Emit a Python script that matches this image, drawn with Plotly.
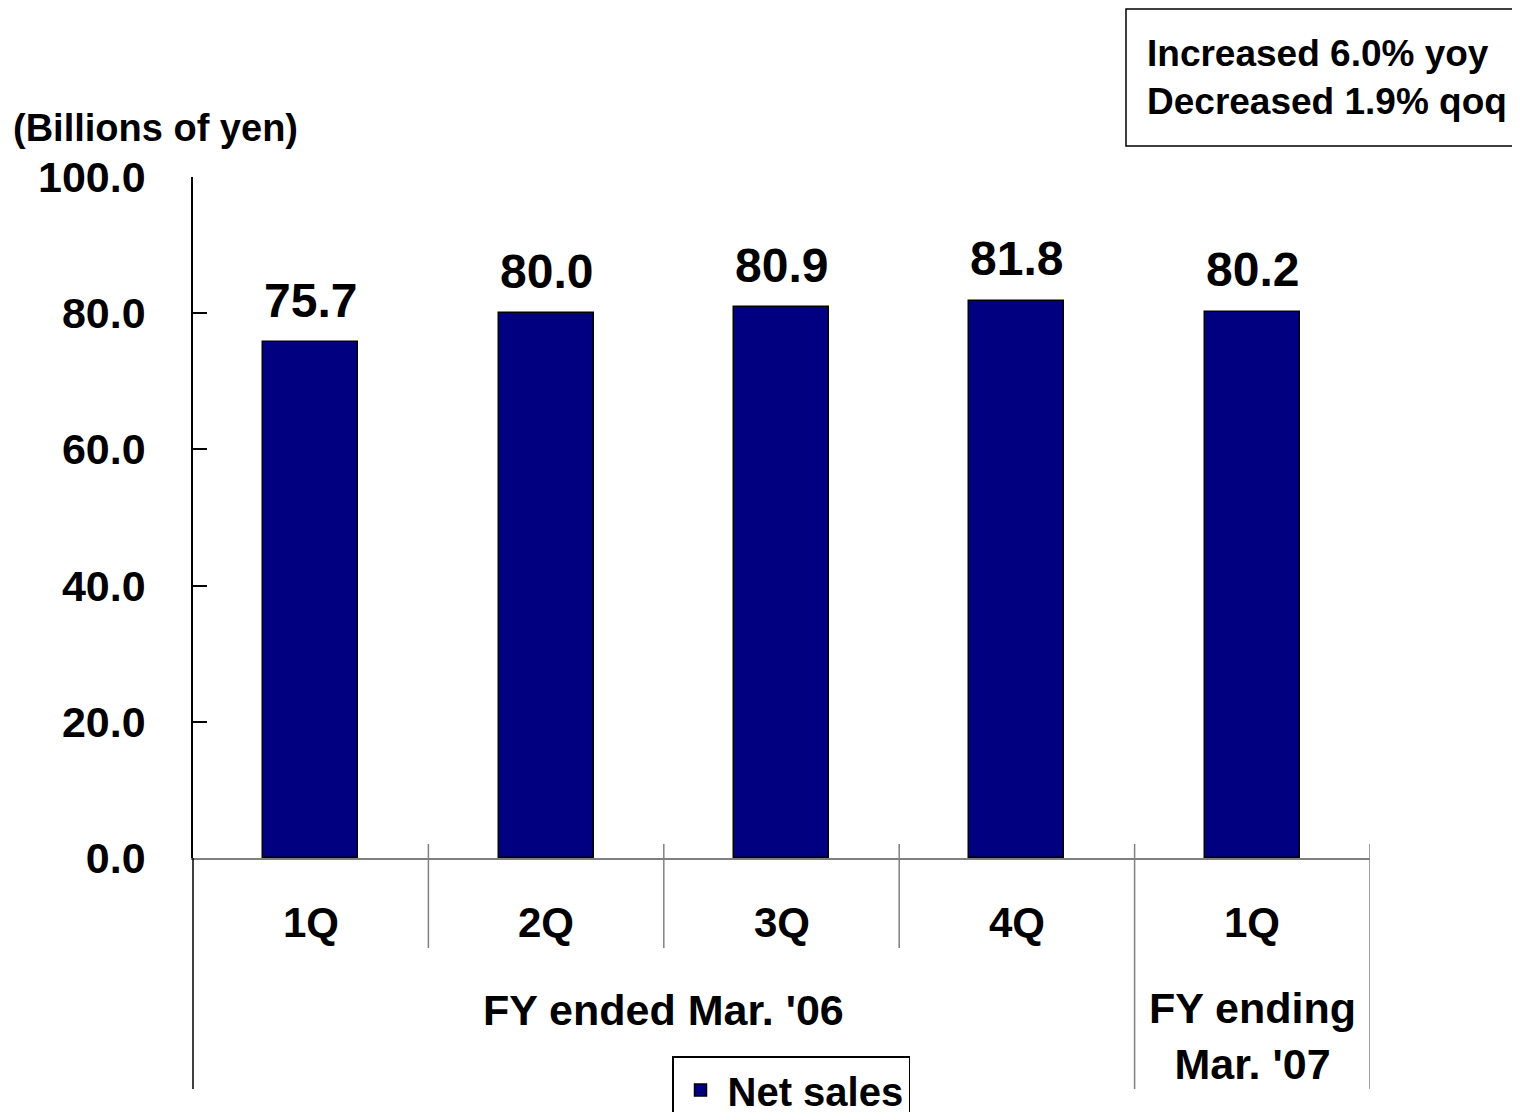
import plotly.graph_objects as go

# ---- data ----
quarters = ["1Q", "2Q", "3Q", "4Q", "1Q"]
net_sales = [75.7, 80.0, 80.9, 81.8, 80.2]
fiscal_groups = ["FY ended Mar. '06", "FY ending<br>Mar. '07"]
group_sizes = [4, 1]
ytick_vals = [0, 20, 40, 60, 80, 100]
ytick_text = ["0.0", "20.0", "40.0", "60.0", "80.0", "100.0"]
unit_label = "(Billions of yen)"
note_text = "Increased 6.0% yoy<br>Decreased 1.9% qoq"
series_name = "Net sales"

FONT = "Liberation Sans, Arial, sans-serif"
NAVY = "#000080"
GRAY = "#808080"

# the page body adds an 8px margin, so the figure is drawn 8px smaller
OFF = 8
W, H = 1520 - 2 * OFF, 1120 - 2 * OFF
# plot area in page pixels: x 193..1370, y 177..858
L, T = 193 - OFF, 177 - OFF
R, B = W - (1370 - OFF), H - (858 - OFF)
plot_w = W - L - R
plot_h = H - T - B


def px_x(p):
    """page pixel x -> paper coordinate"""
    return (p - OFF - L) / plot_w


def px_y(p):
    """page pixel y -> paper coordinate"""
    return (H - B - (p - OFF)) / plot_h


xs = list(range(len(net_sales)))

fig = go.Figure()
fig.add_trace(go.Bar(
    x=xs, y=net_sales, width=0.404, name=series_name,
    marker=dict(color=NAVY, line=dict(color="black", width=1.5)),
    showlegend=True,
))

annotations = []
# value labels
for x, v in zip(xs, net_sales):
    annotations.append(dict(
        x=x, y=v, xref="x", yref="y", text=f"{v:.1f}", showarrow=False,
        yanchor="middle", yshift=42,
        font=dict(family=FONT, size=48, color="black", weight="bold"),
    ))
# quarter labels
for x, q in zip(xs, quarters):
    annotations.append(dict(
        x=x, y=px_y(922), xref="x", yref="paper", text=q, showarrow=False,
        yanchor="middle",
        font=dict(family=FONT, size=42, color="black", weight="bold"),
    ))
# group labels
start = 0
for g, n in zip(fiscal_groups, group_sizes):
    cx = start + (n - 1) / 2
    annotations.append(dict(
        x=cx, y=px_y(1036) if "<br>" in g else px_y(1010), xref="x", yref="paper",
        text=g, showarrow=False, yanchor="middle",
        font=dict(family=FONT, size=43, color="black", weight="bold"),
    ))
    start += n
# unit label
annotations.append(dict(
    x=px_x(11), y=px_y(128), xref="paper", yref="paper", text=unit_label,
    showarrow=False, xanchor="left", yanchor="middle",
    font=dict(family=FONT, size=38, color="black", weight="bold"),
))
# note
annotations.append(dict(
    x=px_x(1145), y=px_y(78), xref="paper", yref="paper", text=note_text,
    showarrow=False, xanchor="left", yanchor="middle", align="left",
    font=dict(family=FONT, size=37, color="black", weight="bold"),
))

shapes = []
# separators between categories
start = 0
bounds = []
for n in group_sizes:
    bounds.append(start - 0.5)
    start += n
bounds.append(start - 0.5)
for i in range(1, len(xs) + 1):
    xb = i - 0.5
    long = xb in bounds
    shapes.append(dict(
        type="line", xref="x", yref="paper", x0=xb, x1=xb,
        y0=px_y(844), y1=px_y(1089 if long else 948),
        line=dict(color=GRAY, width=1.5),
    ))
# left axis extension
shapes.append(dict(
    type="line", xref="paper", yref="paper", x0=0, x1=0,
    y0=0, y1=px_y(1089), line=dict(color="black", width=1.5),
))
# note box
shapes.append(dict(
    type="rect", xref="paper", yref="paper",
    x0=px_x(1126), x1=px_x(1540), y0=px_y(146), y1=px_y(9),
    line=dict(color="black", width=1.5), fillcolor="rgba(0,0,0,0)",
))

fig.update_layout(
    width=W, height=H,
    margin=dict(l=L, r=R, t=T, b=B, pad=0, autoexpand=False),
    paper_bgcolor="white", plot_bgcolor="white",
    font=dict(family=FONT, color="black"),
    bargap=0,
    xaxis=dict(
        range=[-0.5, len(xs) - 0.5], showticklabels=False, ticks="",
        showgrid=False, zeroline=False, showline=True,
        linecolor=GRAY, linewidth=1.5,
    ),
    yaxis=dict(
        range=[0, 100], tickvals=ytick_vals, ticktext=ytick_text,
        ticks="inside", ticklen=14, tickcolor="black", tickwidth=1.5,
        showgrid=False, zeroline=False, showline=True,
        linecolor="black", linewidth=1.5,
        tickfont=dict(family=FONT, size=43, color="black", weight="bold"),
        ticklabelstandoff=37,
    ),
    legend=dict(
        x=px_x(672), y=px_y(1056), xanchor="left", yanchor="top",
        bordercolor="black", borderwidth=1.5, bgcolor="white",
        font=dict(family=FONT, size=40, color="black", weight="bold"),
        itemwidth=44,
    ),
    annotations=annotations,
    shapes=shapes,
)

fig.write_html("out.html")
